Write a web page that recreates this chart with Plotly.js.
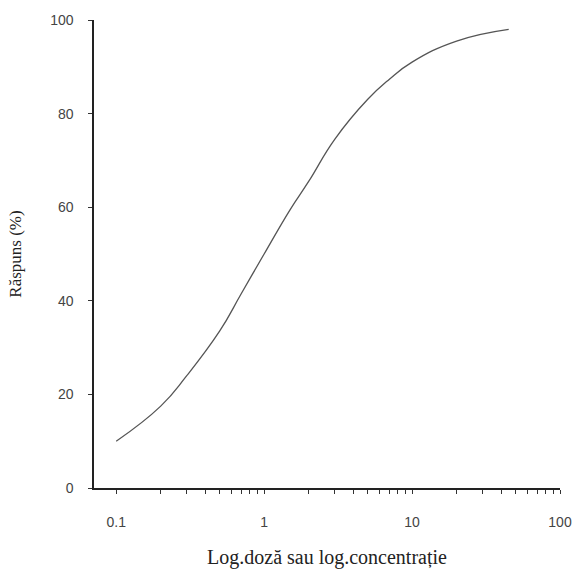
<!DOCTYPE html>
<html>
<head>
<meta charset="utf-8">
<script src="https://cdn.plot.ly/plotly-3.0.1.min.js"></script>
<style>html,body{margin:0;padding:0;background:#fff;}#chart{width:578px;height:577px;}</style>
</head>
<body>
<div id="chart"></div>
<script>
// Data
const doseValues = [0.1, 0.2, 0.3, 0.5, 0.7, 1, 1.5, 2, 3, 5, 7, 10, 20, 45];
const responseValues = [10, 17.5, 24, 33.5, 41.5, 50, 59.5, 65.5, 74.5, 83, 87.3, 91, 95.5, 98];

const yTickValues = [0, 20, 40, 60, 80, 100];
const xMajorTicks = [0.1, 1, 10, 100];
const xMajorLabels = ['0.1', '1', '10', '100'];

// build log-axis tick list (majors labelled, minors blank)
const xTickVals = [];
const xTickText = [];
[0.1, 1, 10].forEach(function (base) {
  for (let m = 1; m <= 9; m++) {
    const v = +(base * m).toPrecision(3);
    xTickVals.push(v);
    const i = xMajorTicks.indexOf(v);
    xTickText.push(i >= 0 ? xMajorLabels[i] : '');
  }
});
xTickVals.push(100); xTickText.push('100');

const trace = {
  x: doseValues,
  y: responseValues,
  type: 'scatter',
  mode: 'lines',
  line: {color: '#555', width: 1.3, shape: 'spline', smoothing: 1.3},
  hoverinfo: 'skip'
};

const layout = {
  width: 578, height: 577,
  margin: {l: 94, r: 18, t: 20, b: 89},
  paper_bgcolor: '#fff', plot_bgcolor: '#fff',
  showlegend: false,
  font: {family: 'Liberation Sans, Arial, sans-serif', size: 14, color: '#444'},
  xaxis: {
    type: 'log',
    range: [-1.15, 2.0],
    tickvals: xTickVals, ticktext: xTickText,
    ticks: 'outside', ticklen: 4, tickwidth: 1, tickcolor: '#333',
    ticklabelstandoff: 17,
    showline: true, linecolor: '#222', linewidth: 1.6,
    showgrid: false, zeroline: false,
    tickfont: {family: 'Liberation Sans, Arial, sans-serif', size: 14, color: '#444'},
    title: {text: 'Log.doză sau log.concentrație', standoff: 20,
            font: {family: 'Liberation Serif, Times New Roman, serif', size: 20, color: '#222'}}
  },
  yaxis: {
    range: [0, 100],
    tickvals: yTickValues,
    ticks: 'outside', ticklen: 4, tickwidth: 1, tickcolor: '#333',
    ticklabelstandoff: 12,
    showline: true, linecolor: '#222', linewidth: 1.6,
    showgrid: false, zeroline: false,
    tickfont: {family: 'Liberation Sans, Arial, sans-serif', size: 14, color: '#444'},
    title: {text: 'Răspuns (%)', standoff: 24,
            font: {family: 'Liberation Serif, Times New Roman, serif', size: 17, color: '#222'}}
  }
};

Plotly.newPlot('chart', [trace], layout, {staticPlot: true, displayModeBar: false});
</script>
</body>
</html>
